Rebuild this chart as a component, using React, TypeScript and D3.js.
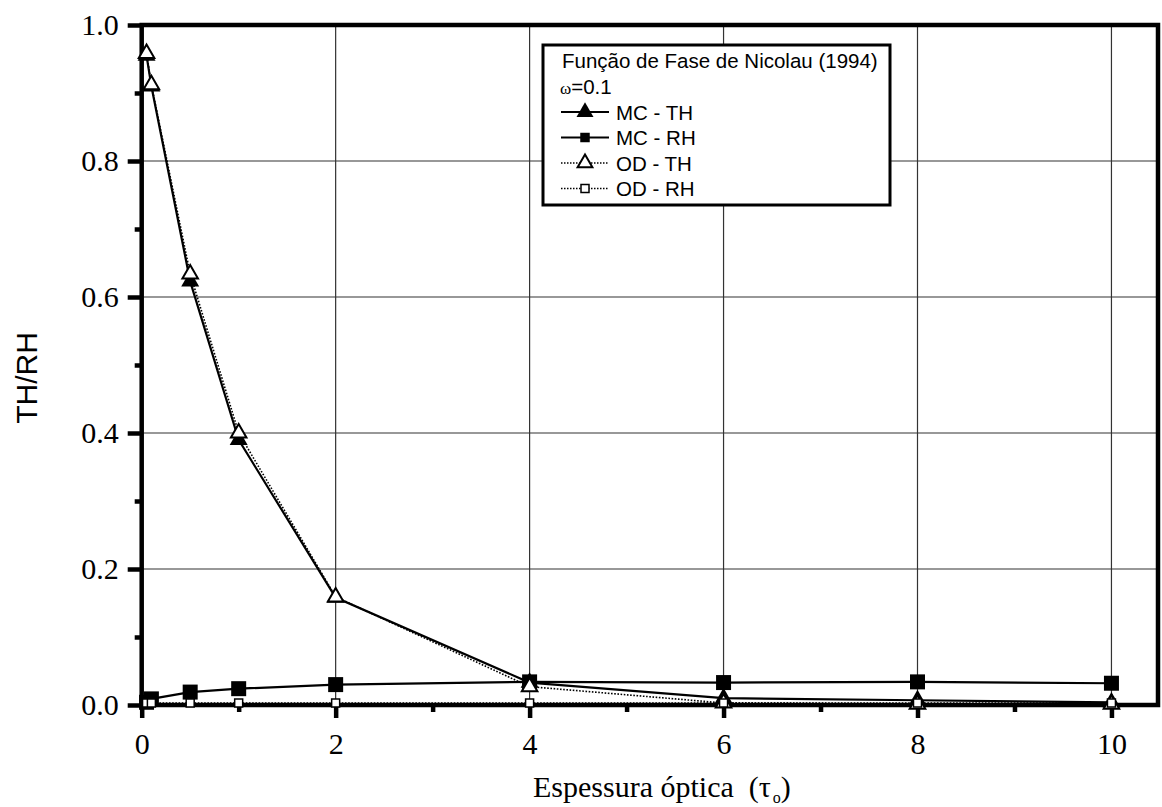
import React, { useEffect, useRef } from "react";
import * as d3 from "d3";

// optical thickness values
const tau = [0.05, 0.1, 0.5, 1, 2, 4, 6, 8, 10];

// series
const mcTH = [0.955, 0.91, 0.623, 0.39, 0.158, 0.033, 0.01, 0.007, 0.004];
const mcRH = [0.004, 0.009, 0.019, 0.024, 0.03, 0.034, 0.033, 0.034, 0.032];
const odTH = [0.958, 0.912, 0.634, 0.4, 0.159, 0.027, 0.003, 0.001, 0.001];
const odRH = [0.003, 0.003, 0.003, 0.003, 0.003, 0.003, 0.003, 0.003, 0.003];

const xTicks = [0, 2, 4, 6, 8, 10];
const xMinor = [1, 3, 5, 7, 9];
const yTicks = [0, 0.2, 0.4, 0.6, 0.8, 1.0];
const yMinor = [0.1, 0.3, 0.5, 0.7, 0.9];

const legendTitle = "Função de Fase de Nicolau (1994)";
const legendSub = "=0.1";
const seriesNames = ["MC - TH", "MC - RH", "OD - TH", "OD - RH"];

const W = 1162;
const H = 807;
const margin = { left: 141.7, right: 4, top: 25, bottom: 102 };

export default function App() {
  const ref = useRef<SVGSVGElement>(null);

  useEffect(() => {
    const svg = d3.select(ref.current);
    svg.selectAll("*").remove();

    const x = d3.scaleLinear().domain([0, 10.48]).range([margin.left, W - margin.right]);
    const y = d3.scaleLinear().domain([0, 1]).range([H - margin.bottom, margin.top]);

    const serif = "'Liberation Serif', 'Times New Roman', serif";
    const sans = "'Liberation Sans', Arial, sans-serif";

    // grid
    const grid = svg.append("g").attr("stroke", "#333").attr("stroke-width", 1.2);
    xTicks.filter(d => d > 0).forEach(d => {
      grid.append("line").attr("x1", x(d)).attr("x2", x(d)).attr("y1", y(0)).attr("y2", y(1));
    });
    yTicks.filter(d => d > 0 && d < 1).forEach(d => {
      grid.append("line").attr("x1", x.range()[0]).attr("x2", x.range()[1]).attr("y1", y(d)).attr("y2", y(d));
    });

    // axes (outward ticks)
    const xAxis = d3.axisBottom(x).tickValues(xTicks).tickSize(13).tickFormat(d3.format("d"));
    const xAxisMinor = d3.axisBottom(x).tickValues(xMinor).tickSize(7).tickFormat(() => "");
    const yAxis = d3.axisLeft(y).tickValues(yTicks).tickSize(14).tickFormat(d3.format(".1f"));
    const yAxisMinor = d3.axisLeft(y).tickValues(yMinor).tickSize(7).tickFormat(() => "");

    const gx = svg.append("g").attr("transform", `translate(0,${y(0)})`).call(xAxis);
    svg.append("g").attr("transform", `translate(0,${y(0)})`).call(xAxisMinor);
    const gy = svg.append("g").attr("transform", `translate(${x(0)},0)`).call(yAxis);
    svg.append("g").attr("transform", `translate(${x(0)},0)`).call(yAxisMinor);

    svg.selectAll(".domain").remove();
    svg.selectAll(".tick line").attr("stroke", "#000").attr("stroke-width", 4.5);
    gx.selectAll(".tick text")
      .attr("font-family", serif).attr("font-size", 30).attr("fill", "#000").attr("dy", "1.1em");
    gy.selectAll(".tick text")
      .attr("font-family", serif).attr("font-size", 30).attr("fill", "#000").attr("dx", "-0.2em");

    // frame
    svg.append("rect")
      .attr("x", x.range()[0]).attr("y", y(1))
      .attr("width", x.range()[1] - x.range()[0]).attr("height", y(0) - y(1))
      .attr("fill", "none").attr("stroke", "#000").attr("stroke-width", 4.5);

    // lines
    const line = d3.line<number>().x((d, i) => x(tau[i])).y(d => y(d));
    const series = [
      { v: mcTH, solid: true },
      { v: mcRH, solid: true },
      { v: odTH, solid: false },
      { v: odRH, solid: false },
    ];
    series.forEach(s => {
      svg.append("path").datum(s.v).attr("d", line)
        .attr("fill", "none")
        .attr("stroke", "#000")
        .attr("stroke-width", s.solid ? 2.2 : 1.6)
        .attr("stroke-dasharray", s.solid ? null : "1.6,1.6");
    });

    // markers
    const tri = d3.symbol().type(d3.symbolTriangle);
    const sq = d3.symbol().type(d3.symbolSquare);
    const marker = (g: any, kind: string, cx: number, cy: number, small = false) => {
      if (kind === "mcTH") {
        g.append("path").attr("d", tri.size(small ? 125 : 140)()).attr("transform", `translate(${cx},${cy})`).attr("fill", "#000");
      } else if (kind === "mcRH") {
        g.append("path").attr("d", sq.size(small ? 90 : 225)()).attr("transform", `translate(${cx},${cy})`).attr("fill", "#000");
      } else if (kind === "odTH") {
        g.append("path").attr("d", tri.size(small ? 95 : 105)()).attr("transform", `translate(${cx},${cy})`)
          .attr("fill", "#fff").attr("stroke", "#000").attr("stroke-width", 2);
      } else {
        g.append("path").attr("d", sq.size(64)()).attr("transform", `translate(${cx},${cy})`)
          .attr("fill", "#fff").attr("stroke", "#000").attr("stroke-width", 1.5);
      }
    };
    const kinds = ["mcTH", "mcRH", "odTH", "odRH"];
    const mg = svg.append("g");
    series.forEach((s, k) => {
      s.v.forEach((d, i) => marker(mg, kinds[k], x(tau[i]), y(d)));
    });

    // legend
    const lg = svg.append("g").attr("transform", "translate(543,45)");
    lg.append("rect").attr("width", 347).attr("height", 160)
      .attr("fill", "#fff").attr("stroke", "#000").attr("stroke-width", 3);
    lg.append("text").attr("x", 19).attr("y", 23).attr("font-family", sans).attr("font-size", 20.5)
      .text(legendTitle);
    const sub = lg.append("text").attr("x", 17).attr("y", 49).attr("font-family", sans).attr("font-size", 20.5);
    sub.append("tspan").attr("font-family", serif).attr("font-size", 17).text("ω");
    sub.append("tspan").text(legendSub);
    seriesNames.forEach((name, k) => {
      const cy = 67 + k * 25.5;
      lg.append("line").attr("x1", 18).attr("x2", 66).attr("y1", cy).attr("y2", cy)
        .attr("stroke", "#000")
        .attr("stroke-width", k < 2 ? 2.2 : 1.4)
        .attr("stroke-dasharray", k < 2 ? null : "1.5,1.5");
      marker(lg, kinds[k], 42, cy, true);
      lg.append("text").attr("x", 73).attr("y", cy + 7.5).attr("font-family", sans).attr("font-size", 20.5)
        .text(name);
    });

    // axis titles
    svg.append("text")
      .attr("transform", `translate(37,378) rotate(-90)`)
      .attr("text-anchor", "middle").attr("font-family", sans).attr("font-size", 30)
      .text("TH/RH");

    const xt = svg.append("text")
      .attr("x", 533).attr("y", 797)
      .attr("font-family", serif).attr("font-size", 30)
      .style("white-space", "pre");
    xt.append("tspan").text("Espessura óptica  (τ");
    xt.append("tspan").attr("font-size", 16).attr("dy", 6).attr("dx", 2).text("o");
    xt.append("tspan").attr("dy", -6).text(")");
  }, []);

  return (
    <svg ref={ref} width={W} height={H} style={{ position: "absolute", left: 0, top: 0, background: "#fff" }} />
  );
}
